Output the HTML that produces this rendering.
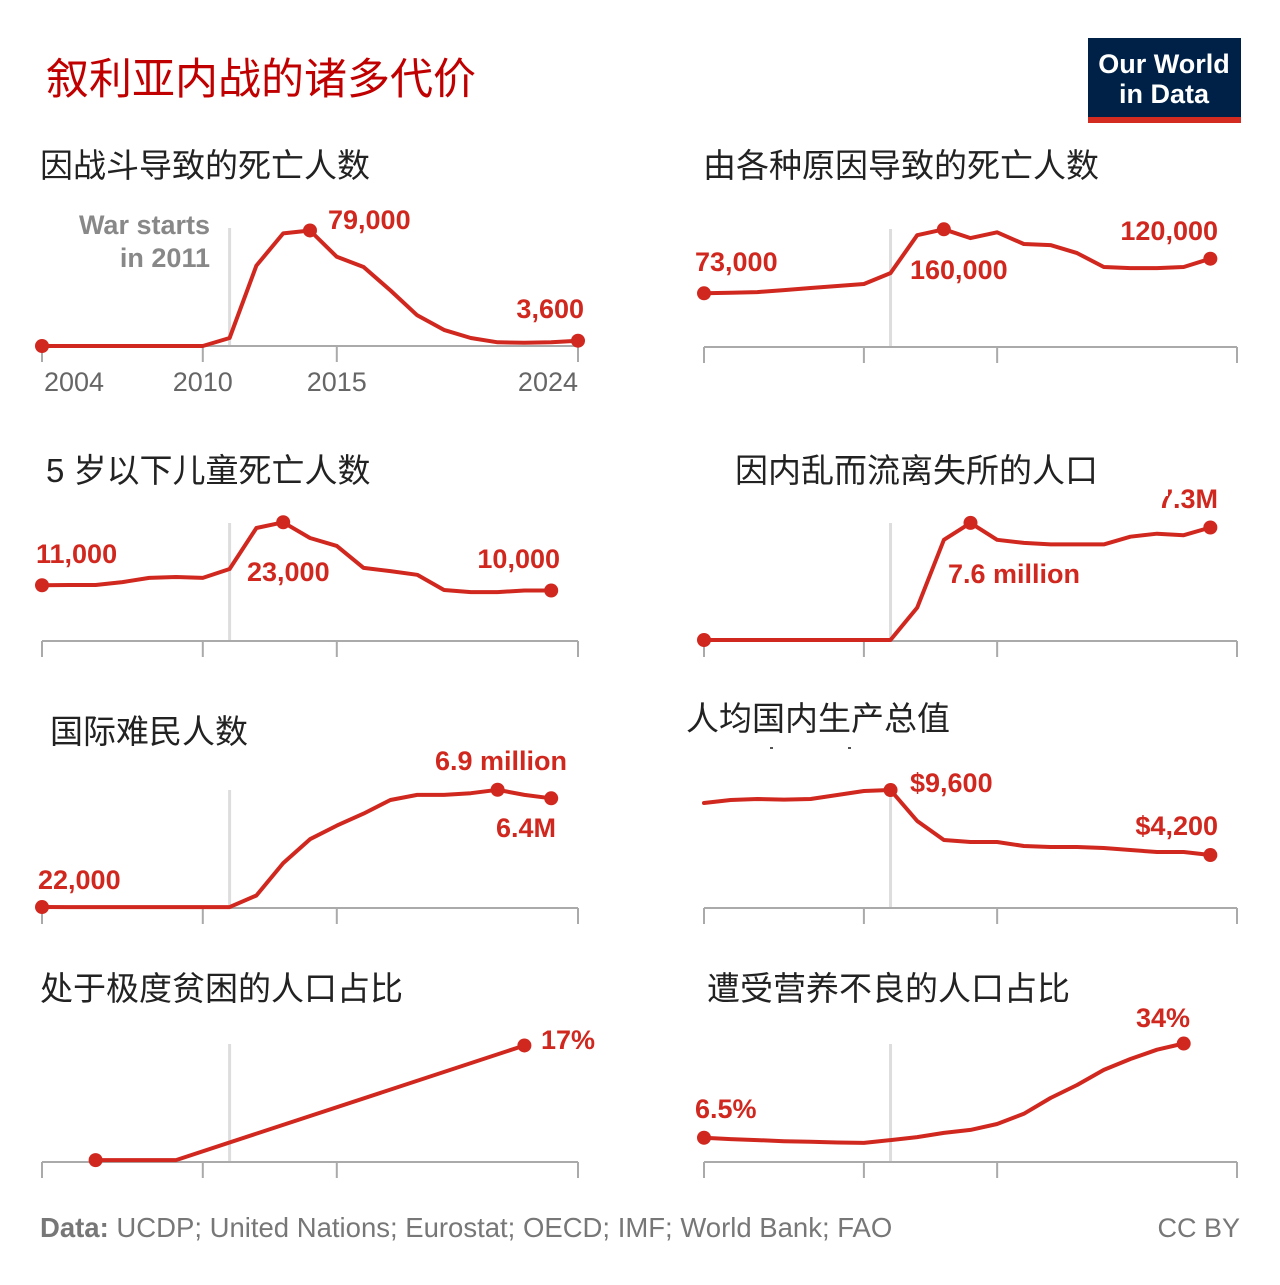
<!DOCTYPE html>
<html><head><meta charset="utf-8">
<style>
html,body{margin:0;padding:0;background:#fff;}
body{width:1280px;height:1280px;overflow:hidden;position:relative;font-family:"Liberation Sans","Noto Sans CJK SC",sans-serif;}
svg text{font-family:"Liberation Sans","Noto Sans CJK SC",sans-serif;}
</style></head>
<body>
<svg id="chart" width="1280" height="1280" xmlns="http://www.w3.org/2000/svg">
<text x="46" y="94" font-size="43" fill="#c00000">叙利亚内战的诸多代价</text>
<g>
<rect x="1088" y="38" width="153" height="85" fill="#002147"/>
<rect x="1088" y="117" width="153" height="6" fill="#d42b21"/>
<text x="1164" y="73" font-size="27" font-weight="bold" fill="#fff" text-anchor="middle">Our World</text>
<text x="1164" y="103" font-size="27" font-weight="bold" fill="#fff" text-anchor="middle">in Data</text>
</g>
<text x="40" y="1237" font-size="27.5" fill="#777"><tspan font-weight="bold">Data:</tspan> UCDP; United Nations; Eurostat; OECD; IMF; World Bank; FAO</text>
<text x="1240" y="1237" font-size="27" fill="#777" text-anchor="end">CC BY</text>
<g id="panels"></g>
</svg>
<script>
// ---- data ----
const p1Years = [2004,2005,2006,2007,2008,2009,2010,2011,2012,2013,2014,2015,2016,2017,2018,2019,2020,2021,2022,2023,2024];
const p1Values = [0,0,0,0,0,0,0,5500,55000,77000,79000,61000,54000,38000,21000,11000,5500,2500,2200,2600,3600];
const p2Years = [2004,2005,2006,2007,2008,2009,2010,2011,2012,2013,2014,2015,2016,2017,2018,2019,2020,2021,2022,2023];
const p2Values = [73000,73800,74700,77400,80200,82900,85600,100500,152000,160000,148000,156000,140000,138500,127700,108700,107300,107300,108700,120000];
const p3Years = [2004,2005,2006,2007,2008,2009,2010,2011,2012,2013,2014,2015,2016,2017,2018,2019,2020,2021,2022,2023];
const p3Values = [11000,11050,11050,11600,12400,12570,12400,14100,21900,23000,20000,18500,14300,13700,13000,10100,9700,9700,10000,10000];
const p4Years = [2004,2005,2006,2007,2008,2009,2010,2011,2012,2013,2014,2015,2016,2017,2018,2019,2020,2021,2022,2023];
const p4Values = [0,0,0,0,0,0,0,0,2.1,6.5,7.6,6.5,6.3,6.2,6.2,6.2,6.7,6.9,6.8,7.3];
const p5Years = [2004,2005,2006,2007,2008,2009,2010,2011,2012,2013,2014,2015,2016,2017,2018,2019,2020,2021,2022,2023];
const p5Values = [0.022,0.02,0.02,0.02,0.02,0.02,0.02,0.02,0.7,2.6,4.0,4.8,5.5,6.3,6.6,6.6,6.7,6.9,6.6,6.4];
const p6Years = [2004,2005,2006,2007,2008,2009,2010,2011,2012,2013,2014,2015,2016,2017,2018,2019,2020,2021,2022,2023];
const p6Values = [8520,8770,8850,8800,8850,9190,9520,9600,7030,5450,5280,5280,4950,4870,4870,4780,4620,4450,4450,4200];
const p7Years = [2006,2009,2022];
const p7Values = [0.2,0.2,17];
const p8Years = [2004,2005,2006,2007,2008,2009,2010,2011,2012,2013,2014,2015,2016,2017,2018,2019,2020,2021,2022];
const p8Values = [6.5,6.1,5.8,5.5,5.3,5.1,5.0,5.8,6.7,7.9,8.8,10.5,13.5,18.1,21.9,26.3,29.5,32.2,34];
const tickYears = [2004,2010,2015,2024];
const axisLabels = ["2004","2010","2015","2024"];

const NS = "http://www.w3.org/2000/svg";
const root = document.getElementById('panels');
function mk(tag, attrs, parent){const e=document.createElementNS(NS,tag);for(const k in attrs)e.setAttribute(k,attrs[k]);(parent||root).appendChild(e);return e;}
const RED = "#d0281f";

const panels = [
 {id:'combat-deaths',x0:42,axisY:346,dmax:80000,top:229,years:p1Years,vals:p1Values,dots:[0,10,20],title:'因战斗导致的死亡人数',tx:40,ty:177,
  labels:[['79,000',328,229,'start'],['3,600',584,318,'end']],axisText:true},
 {id:'all-deaths',x0:704,axisY:347,dmax:180000,top:214.6,years:p2Years,vals:p2Values,dots:[0,9,19],title:'由各种原因导致的死亡人数',tx:703,ty:177,
  labels:[['73,000',695,271,'start'],['160,000',910,279,'start'],['120,000',1218,240,'end']]},
 {id:'under5-deaths',x0:42,axisY:641,zeroY:643,dmax:25000,top:511.75,years:p3Years,vals:p3Values,dots:[0,9,19],title:'5 岁以下儿童死亡人数',tx:46,ty:482,
  labels:[['11,000',36,563,'start'],['23,000',247,581,'start'],['10,000',560,568,'end']]},
 {id:'displaced',x0:704,axisY:641,zeroY:640,dmax:8.5,top:509,years:p4Years,vals:p4Values,dots:[0,10,19],title:'因内乱而流离失所的人口',tx:735,ty:482,
  labels:[['7.6 million',948,583,'start'],['7.3M',1218,508,'end']]},
 {id:'refugees',x0:42,axisY:908,zeroY:907.4,dmax:8,top:771,years:p5Years,vals:p5Values,dots:[0,17,19],title:'国际难民人数',tx:50,ty:743,
  labels:[['22,000',38,889,'start'],['6.9 million',567,770,'end'],['6.4M',556,837,'end']]},
 {id:'gdp',x0:704,axisY:908,zeroY:905.6,dmax:10000,top:785.2,years:p6Years,vals:p6Values,dots:[7,19],title:'人均国内生产总值',tx:686,ty:730,
  labels:[['$9,600',910,792,'start'],['$4,200',1218,835,'end']]},
 {id:'poverty',x0:42,axisY:1162,zeroY:1161.5,dmax:20,top:1025,years:p7Years,vals:p7Values,dots:[0,2],title:'处于极度贫困的人口占比',tx:40,ty:1000,
  labels:[['17%',541,1049,'start']]},
 {id:'undernourishment',x0:704,axisY:1162,zeroY:1160,dmax:40,top:1023,years:p8Years,vals:p8Values,dots:[0,18],title:'遭受营养不良的人口占比',tx:707,ty:1000,
  labels:[['6.5%',695,1118,'start'],['34%',1190,1027,'end']]}
];

panels.forEach(p=>{
  const g = mk('g',{});
  
  
  const step = p.x0>600?26.65:26.8;
  const xs = y=>p.x0+(y-2004)*step;
  const zeroY = p.zeroY!==undefined?p.zeroY:p.axisY;
  const ys = v=>zeroY-(v/p.dmax)*(zeroY-p.top);
  const t = mk('text',{x:p.tx,y:p.ty,'font-size':33,fill:'#222'},g);
  t.textContent = p.title;
  
  
  const wl = mk('line',{x1:xs(2011),x2:xs(2011),y1:p.axisY-118,y2:p.axisY,stroke:'#ddd','stroke-width':3},g);
  
  
  const ax = mk('line',{x1:xs(2004),x2:xs(2024),y1:p.axisY,y2:p.axisY,stroke:'#aaa','stroke-width':2},g);
  
  
  tickYears.forEach((ty,i)=>{
    const tk = mk('line',{x1:xs(ty),x2:xs(ty),y1:p.axisY,y2:p.axisY+16,stroke:'#aaa','stroke-width':2},g);
    
    
    if(p.axisText){
      const anchor = i==0?'start':(i==tickYears.length-1?'end':'middle');
      const lt = mk('text',{x:xs(ty)+(i==0?2:0),y:p.axisY+45,'font-size':27,fill:'#666','text-anchor':anchor},g);
      lt.textContent = axisLabels[i];
      
      
    }
  });
  const d = p.years.map((y,i)=>(i?'L':'M')+xs(y).toFixed(1)+','+ys(p.vals[i]).toFixed(1)).join(' ');
  const path = mk('path',{d:d,fill:'none',stroke:RED,'stroke-width':4,'stroke-linejoin':'round','stroke-linecap':'round'},g);
  
  
  p.dots.forEach(i=>{
    const c = mk('circle',{cx:xs(p.years[i]),cy:ys(p.vals[i]),r:7,fill:RED},g);
    
    
  });
  p.labels.forEach(l=>{
    const lt = mk('text',{x:l[1],y:l[2],'font-size':27,'font-weight':'bold',fill:RED,'text-anchor':l[3]},g);
    lt.textContent = l[0];
    
    
  });
});
const w1 = mk('text',{x:210,y:234,'font-size':27,'font-weight':'bold',fill:'#888','text-anchor':'end'});
w1.textContent='War starts';


const w2 = mk('text',{x:210,y:267,'font-size':27,'font-weight':'bold',fill:'#888','text-anchor':'end'});
w2.textContent='in 2011';


const cv = mk('rect',{x:1150,y:482,width:18,height:14,fill:'#fff'});


[770,848].forEach(x=>{
  const m = mk('rect',{x:x,y:747,width:3,height:2,fill:'#555'});
  
  
});
</script>
</body></html>
